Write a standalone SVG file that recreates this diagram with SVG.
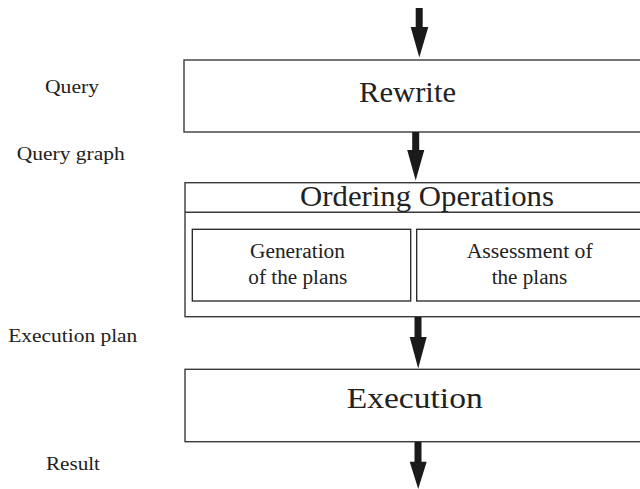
<svg xmlns="http://www.w3.org/2000/svg" width="640" height="489" viewBox="0 0 640 489">
<style>
.box{fill:#fff;stroke:#3a3a3a;stroke-width:1.4}
.inner{fill:#fff;stroke:#222;stroke-width:1.3}
text{font-family:'Liberation Serif','Times New Roman',Times,'Nimbus Roman',serif;fill:#222}
.t{text-anchor:middle}
.big{font-size:29px}
.mid{font-size:20px}
.lbl{font-size:19px}
.arr{fill:#1a1a1a}
</style>
<rect width="640" height="489" fill="#fff"/>
<g id="rewrite">
<rect class="box" x="184" y="60" width="470" height="72"/>
<text class="t big" x="407.5" y="102" font-family="Liberation Serif, serif" textLength="97" lengthAdjust="spacingAndGlyphs">Rewrite</text>
</g>
<g id="ordering">
<rect class="box" x="185" y="182.7" width="470" height="134"/>
<line x1="185" y1="212.3" x2="655" y2="212.3" stroke="#3a3a3a" stroke-width="1.4"/>
<text class="t big" x="427" y="206" font-family="Liberation Serif, serif" textLength="254" lengthAdjust="spacingAndGlyphs">Ordering Operations</text>
</g>
<g id="generation">
<rect class="inner" x="192.3" y="229.3" width="218.4" height="71.7"/>
<text class="t mid" x="297.5" y="258" font-family="Liberation Serif, serif" textLength="95" lengthAdjust="spacingAndGlyphs">Generation</text>
<text class="t mid" x="297.8" y="284" font-family="Liberation Serif, serif" textLength="99" lengthAdjust="spacingAndGlyphs">of the plans</text>
</g>
<g id="assessment">
<rect class="inner" x="416.7" y="229.3" width="240" height="71.7"/>
<text class="t mid" x="529.7" y="258" font-family="Liberation Serif, serif" textLength="126" lengthAdjust="spacingAndGlyphs">Assessment of</text>
<text class="t mid" x="529.5" y="284" font-family="Liberation Serif, serif" textLength="75.6" lengthAdjust="spacingAndGlyphs">the plans</text>
</g>
<g id="execution">
<rect class="box" x="185" y="369.3" width="470" height="72.4"/>
<text class="t big" x="414.7" y="407.7" font-family="Liberation Serif, serif" textLength="136" lengthAdjust="spacingAndGlyphs">Execution</text>
</g>
<g id="labels">
<text class="lbl" x="45" y="93.3" font-family="Liberation Serif, serif" textLength="54" lengthAdjust="spacingAndGlyphs">Query</text>
<text class="lbl" x="16.7" y="160" font-family="Liberation Serif, serif" textLength="108" lengthAdjust="spacingAndGlyphs">Query graph</text>
<text class="lbl" x="8.3" y="341.7" font-family="Liberation Serif, serif" textLength="129" lengthAdjust="spacingAndGlyphs">Execution plan</text>
<text class="lbl" x="46" y="470" font-family="Liberation Serif, serif" textLength="54" lengthAdjust="spacingAndGlyphs">Result</text>
</g>
<g id="connectors">
<path class="arr" d="M415.7,8 H422.7 V27 H428.3 L419.3,57.5 L410.7,27 H415.7 Z"/>
<path class="arr" d="M412.2,132 H419.2 V150 H424.3 L415.7,180.5 L407.2,150 H412.2 Z"/>
<path class="arr" d="M414.5,317 H421.5 V337 H426.7 L418.2,368.5 L409.7,337 H414.5 Z"/>
<path class="arr" d="M414.5,442 H421.5 V461.7 H426.7 L418.2,489 L409.7,461.7 H414.5 Z"/>
</g>
</svg>
